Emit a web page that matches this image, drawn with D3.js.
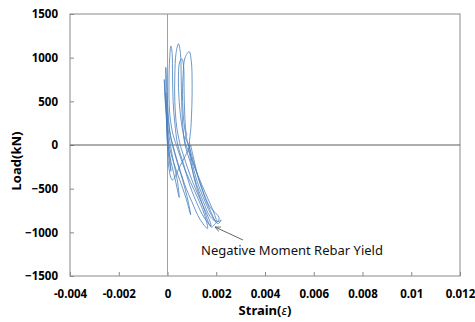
<!DOCTYPE html>
<html>
<head>
<meta charset="utf-8">
<script src="https://cdn.jsdelivr.net/npm/d3@7"></script>
<style>
  body { margin: 0; background: #fff; }
  text { font-family: "Noto Sans", "Liberation Sans", sans-serif; }
</style>
</head>
<body>
<div id="chart"></div>
<script>
// strain values in microstrain, load in kN, one array per loading cycle
var cycleStrain = [
  [0, -20, -35, -20, 0, 60, 140, 100, 40],
  [40, 0, -50, -70, -40, 20, 150, 320, 480, 400, 250, 120],
  [120, 40, -60, -120, -130, -90, -20, 60, 250, 500, 750, 950, 850, 620, 400, 200],
  [200, 120, 20, -60, -70, -70, -40, 20, 100, 220, 420, 700, 1000, 1330, 1640, 1520, 1150, 740, 360],
  [360, 200, 80, 60, 90, 140, 190, 205, 230, 300, 420, 640, 900, 1180, 1480, 1790, 1720, 1380, 1000, 690, 520],
  [520, 380, 300, 300, 350, 450, 530, 560, 580, 620, 720, 940, 1190, 1470, 1750, 2000, 1910, 1570, 1220, 910, 750],
  [750, 600, 480, 450, 500, 590, 660, 680, 700, 760, 800, 720, 870, 1120, 1420, 1720, 2120, 1960, 1800, 1460, 1110, 850],
  [850, 700, 620, 640, 720, 890, 980, 1010, 1000, 960, 900, 1010, 1220, 1470, 1760, 2010, 2200, 2060, 1710, 1310, 950],
  [950, 500, 200, 50, 10]
];
var cycleLoad = [
  [0, 150, 300, 160, 0, -150, -300, -160, 0],
  [0, 200, 450, 600, 350, 0, -200, -400, -600, -400, -200, 0],
  [0, 150, 400, 650, 750, 500, 200, 0, -200, -400, -600, -800, -650, -400, -200, 0],
  [0, 100, 300, 550, 750, 890, 700, 400, 150, 0, -200, -450, -650, -850, -955, -800, -550, -300, 0],
  [0, 150, 400, 700, 1000, 1133, 1050, 800, 500, 250, 0, -200, -450, -650, -820, -930, -860, -650, -400, -150, 0],
  [0, 200, 500, 800, 1050, 1160, 1050, 800, 500, 250, 0, -200, -450, -650, -820, -875, -780, -560, -330, -100, 0],
  [0, 200, 500, 800, 950, 988, 900, 650, 400, 150, 120, 100, 0, -250, -500, -700, -840, -900, -940, -700, -400, 0],
  [0, 200, 500, 800, 1000, 1069, 950, 700, 450, 200, 0, -200, -420, -600, -780, -880, -860, -900, -720, -420, 0],
  [0, -250, -400, -250, 0]
];
var xTicks = [-0.004, -0.002, 0, 0.002, 0.004, 0.006, 0.008, 0.01, 0.012];
var yTicks = [1500, 1000, 500, 0, -500, -1000, -1500];

var width = 475, height = 322;
var margin = {left: 70, right: 15, top: 14, bottom: 46};

var svg = d3.select("#chart").append("svg")
  .attr("width", width).attr("height", height);

var x = d3.scaleLinear().domain([-0.004, 0.012]).range([margin.left, width - margin.right]);
var y = d3.scaleLinear().domain([-1500, 1500]).range([height - margin.bottom, margin.top]);

// plot frame
svg.append("rect")
  .attr("x", x(-0.004)).attr("y", y(1500))
  .attr("width", x(0.012) - x(-0.004)).attr("height", y(-1500) - y(1500))
  .attr("fill", "none").attr("stroke", "#8a8a8a").attr("stroke-width", 1);

// axes with inner ticks
svg.append("g")
  .attr("transform", "translate(" + x(-0.004) + ",0)")
  .call(d3.axisLeft(y).tickValues(yTicks).tickSize(-4).tickPadding(12).tickFormat(d3.format("d")))
  .call(function (g) {
    g.select(".domain").remove();
    g.selectAll("line").attr("stroke", "#8a8a8a");
    g.selectAll("text").style("font-size", "11.5px").style("font-weight", "bold").attr("fill", "#000");
  });

svg.append("g")
  .attr("transform", "translate(0," + y(-1500) + ")")
  .call(d3.axisBottom(x).tickValues(xTicks).tickSize(-4).tickPadding(14).tickFormat(function (d) { return String(+d.toFixed(3)); }))
  .call(function (g) {
    g.select(".domain").remove();
    g.selectAll("line").attr("stroke", "#8a8a8a");
    g.selectAll("text").style("font-size", "11.5px").style("font-weight", "bold").attr("fill", "#000");
  });

// zero lines
svg.append("line")
  .attr("x1", x(0)).attr("x2", x(0)).attr("y1", y(1500)).attr("y2", y(-1500))
  .attr("stroke", "#a0a0a0").attr("stroke-width", 1);
svg.append("line")
  .attr("x1", x(-0.004)).attr("x2", x(0.012)).attr("y1", y(0)).attr("y2", y(0))
  .attr("stroke", "#5a5a5a").attr("stroke-width", 1);

// hysteresis curves
var line = d3.line()
  .x(function (d) { return x(d[0] * 1e-6); })
  .y(function (d) { return y(d[1]); })
  .curve(d3.curveCatmullRom.alpha(0.5));

cycleStrain.forEach(function (s, i) {
  var pts = s.map(function (v, j) { return [v, cycleLoad[i][j]]; });
  svg.append("path")
    .datum(pts)
    .attr("d", line)
    .attr("fill", "none")
    .attr("stroke", "#4a7ebb")
    .attr("stroke-opacity", 0.8)
    .attr("stroke-width", 1);
});

// annotation
svg.append("defs").append("marker")
  .attr("id", "arr").attr("viewBox", "0 0 10 10").attr("refX", 9).attr("refY", 5)
  .attr("markerWidth", 7).attr("markerHeight", 7).attr("orient", "auto")
  .append("path").attr("d", "M0,1 L9,5 L0,9").attr("fill", "none").attr("stroke", "#555").attr("stroke-width", 1.2);

svg.append("line")
  .attr("x1", 243).attr("y1", 240).attr("x2", 215).attr("y2", 227)
  .attr("stroke", "#555").attr("stroke-width", 0.9).attr("marker-end", "url(#arr)");

svg.append("text")
  .attr("x", 201).attr("y", 255)
  .style("font-size", "13px").attr("fill", "#111")
  .text("Negative Moment Rebar Yield");

// axis titles
var xt = svg.append("text")
  .attr("x", x(0.004)).attr("y", 315)
  .attr("text-anchor", "middle")
  .style("font-size", "13px").style("font-weight", "bold");
xt.append("tspan").text("Strain(");
xt.append("tspan").style("font-style", "italic").style("font-weight", "normal").text("ε");
xt.append("tspan").text(")");

svg.append("text")
  .attr("transform", "translate(21,161) rotate(-90)")
  .attr("text-anchor", "middle")
  .style("font-size", "13px").style("font-weight", "bold")
  .text("Load(kN)");
</script>
</body>
</html>
